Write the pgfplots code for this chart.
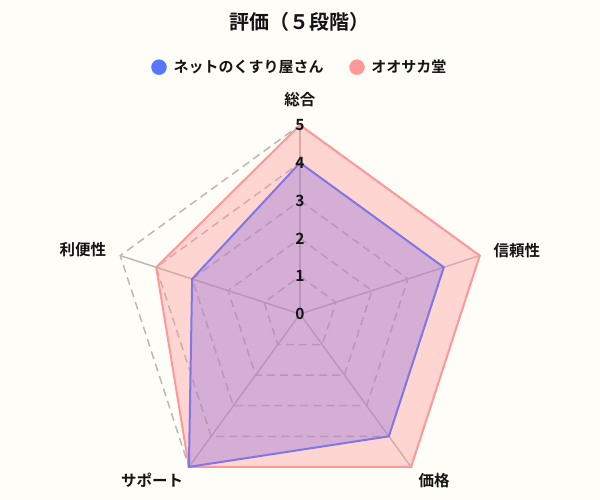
\documentclass[border=0pt]{standalone}
\usepackage{fontspec}
\setmainfont{Noto Sans CJK JP}[BoldFont={Noto Sans CJK JP Bold}]
\usepackage{pgfplots}
\pgfplotsset{compat=1.18}
\usepgfplotslibrary{polar}

\definecolor{bg}{RGB}{255,253,248}
\definecolor{gridgray}{RGB}{185,185,185}
\definecolor{pinkline}{RGB}{255,153,153}
\definecolor{pinkfill}{RGB}{255,150,150}
\definecolor{purplefill}{RGB}{147,112,219}
\definecolor{blueline}{RGB}{128,118,228}
\definecolor{bluemark}{RGB}{88,118,255}
\definecolor{txt}{RGB}{20,20,20}

\tikzset{lbl/.style={font=\fontsize{15.5bp}{17bp}\selectfont\bfseries, text=txt}}

\begin{document}
\begin{tikzpicture}
\fill[bg] (-300bp,-186bp) rectangle (300bp,314bp);
\begin{polaraxis}[
  at={(0,0)}, anchor=center,
  scale only axis, width=378bp, height=378bp,
  xmin=0, xmax=360, ymin=0, ymax=5,
  hide axis, clip=false,
  legend style={at={(0.5,1.153)}, anchor=center, draw=none, fill=none,
    font=\fontsize{15bp}{17bp}\selectfont\bfseries, text=txt,
    legend columns=-1,
    /tikz/every odd column/.append style={column sep=5bp},
    /tikz/every even column/.append style={column sep=24bp}},
  legend cell align=left,
]
% grid pentagons
\pgfplotsinvokeforeach{1,2,3,4,5}{
  \addplot[forget plot, gridgray, line width=1.5bp, dash pattern=on 8bp off 5bp]
    coordinates {(90,#1) (18,#1) (306,#1) (234,#1) (162,#1) (90,#1)};
}
% spokes
\addplot[forget plot, gridgray, line width=1.5bp] coordinates {(90,0) (90,5)};
\addplot[forget plot, gridgray, line width=1.5bp] coordinates {(18,0) (18,5)};
\addplot[forget plot, gridgray, line width=1.5bp] coordinates {(306,0) (306,5)};
\addplot[forget plot, gridgray, line width=1.5bp] coordinates {(234,0) (234,5)};
\addplot[forget plot, gridgray, line width=1.5bp] coordinates {(162,0) (162,5)};

% オオサカ堂
\addplot[forget plot, draw=pinkline, line width=2bp, fill=pinkfill, fill opacity=0.38]
  coordinates {(90,5) (18,5) (306,5) (234,5) (162,4) (90,5)};
% ネットのくすり屋さん
\addplot[forget plot, draw=blueline, line width=2bp, fill=purplefill, fill opacity=0.38]
  coordinates {(90,4) (18,4) (306,4) (234,5) (162,3) (90,4)};

\addlegendimage{only marks, mark=*, mark size=7.5bp, color=bluemark}
\addlegendentry{ネットのくすり屋さん}
\addlegendimage{only marks, mark=*, mark size=7.5bp, color=pinkline}
\addlegendentry{オオサカ堂}

% radial numbers
\node[lbl] at (axis cs:90,0) {0};
\node[lbl] at (axis cs:90,1) {1};
\node[lbl] at (axis cs:90,2) {2};
\node[lbl] at (axis cs:90,3) {3};
\node[lbl] at (axis cs:90,4) {4};
\node[lbl] at (axis cs:90,5) {5};
% category labels
\node[lbl] at (axis cs:90,5.66) {総合};
\node[lbl] at (axis cs:16.4,5.98) {信頼性};
\node[lbl] at (axis cs:308.9,5.65) {価格};
\node[lbl] at (axis cs:228.3,5.88) {サポート};
\node[lbl] at (axis cs:163.6,5.99) {利便性};
\end{polaraxis}
\node[font=\fontsize{20bp}{22bp}\selectfont\bfseries, text=txt] at (0,292bp) {評価（５段階）};
\end{tikzpicture}
\end{document}
